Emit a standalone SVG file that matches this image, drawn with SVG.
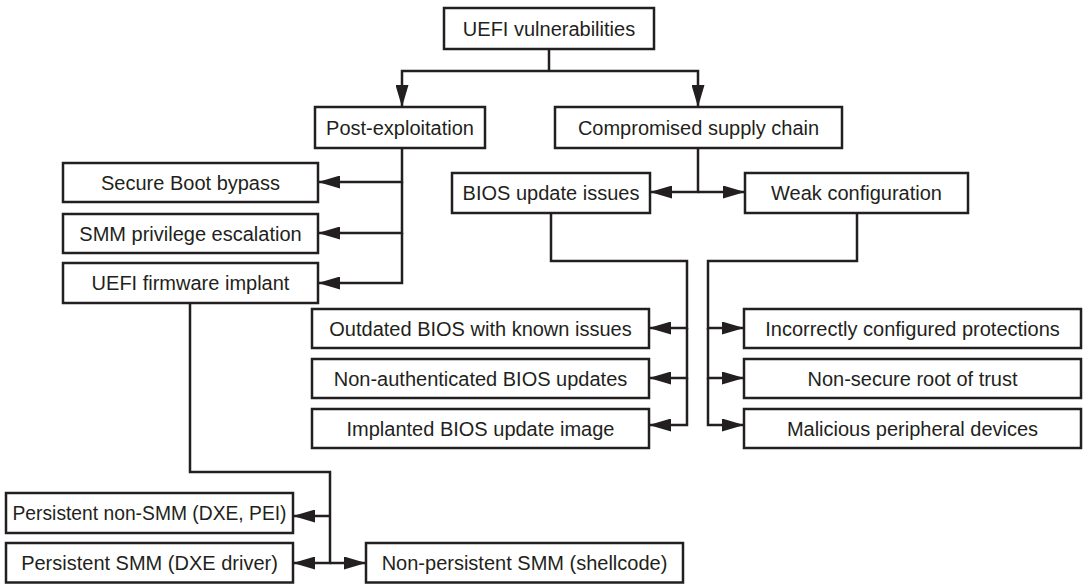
<svg xmlns="http://www.w3.org/2000/svg" width="1083" height="584" viewBox="0 0 1083 584">
<style>
.box{fill:#fff;stroke:#231f20;stroke-width:2.5}
.lbl{font-family:"Liberation Sans",Arial,sans-serif;font-size:20px;fill:#231f20;text-anchor:middle}
.con{fill:none;stroke:#231f20;stroke-width:2.5}
.arr{marker-end:url(#ah)}
</style>
<defs>
<marker id="ah" markerUnits="userSpaceOnUse" markerWidth="22" markerHeight="13" refX="22" refY="6.5" orient="auto">
<path d="M0,0 L22,6.5 L0,13 Z" fill="#231f20"/>
</marker>
</defs>
<rect width="1083" height="584" fill="#fff"/>
<g id="connectors">
<path class="con" d="M549,49 V71"/>
<path class="con arr" d="M549,71 H402 V107"/>
<path class="con arr" d="M549,71 H698 V107"/>
<path class="con arr" d="M402,148 V182 H318"/>
<path class="con arr" d="M402,182 V233 H318"/>
<path class="con arr" d="M402,233 V283 H318"/>
<path class="con arr" d="M698,148 V192 H650"/>
<path class="con arr" d="M698,192 H745"/>
<path class="con arr" d="M551,213 V261 H687 V328 H649"/>
<path class="con arr" d="M687,328 V378 H649"/>
<path class="con arr" d="M687,378 V425 H649"/>
<path class="con arr" d="M857,213 V261 H708 V328 H744"/>
<path class="con arr" d="M708,328 V378 H744"/>
<path class="con arr" d="M708,378 V425 H744"/>
<path class="con" d="M190,303 V472 H330 V516"/>
<path class="con arr" d="M330,516 H293"/>
<path class="con arr" d="M330,516 V563 H293"/>
<path class="con arr" d="M330,563 H366"/>
</g>
<g id="n-uefi"><rect class="box" x="444" y="8" width="210" height="41"/><text class="lbl" x="549" y="35.5">UEFI vulnerabilities</text></g>
<g id="n-post"><rect class="box" x="315" y="107" width="170" height="41"/><text class="lbl" x="400" y="134.5">Post-exploitation</text></g>
<g id="n-supply"><rect class="box" x="555" y="107" width="287" height="41"/><text class="lbl" x="698.5" y="134.5">Compromised supply chain</text></g>
<g id="n-secure"><rect class="box" x="63" y="163" width="255" height="39"/><text class="lbl" x="190.5" y="189.5">Secure Boot bypass</text></g>
<g id="n-smm"><rect class="box" x="63" y="214" width="255" height="39"/><text class="lbl" x="190.5" y="240.5">SMM privilege escalation</text></g>
<g id="n-implant"><rect class="box" x="63" y="263" width="255" height="40"/><text class="lbl" x="190.5" y="290">UEFI firmware implant</text></g>
<g id="n-bios"><rect class="box" x="452" y="173" width="198" height="40"/><text class="lbl" x="551" y="200">BIOS update issues</text></g>
<g id="n-weak"><rect class="box" x="745" y="173" width="223" height="40"/><text class="lbl" x="856.5" y="200">Weak configuration</text></g>
<g id="n-outdated"><rect class="box" x="312" y="309" width="337" height="39"/><text class="lbl" x="480.5" y="335.5">Outdated BIOS with known issues</text></g>
<g id="n-nonauth"><rect class="box" x="312" y="359" width="337" height="39"/><text class="lbl" x="480.5" y="385.5">Non-authenticated BIOS updates</text></g>
<g id="n-implanted"><rect class="box" x="312" y="409" width="337" height="39"/><text class="lbl" x="480.5" y="435.5">Implanted BIOS update image</text></g>
<g id="n-incorrect"><rect class="box" x="744" y="309" width="337" height="39"/><text class="lbl" x="912.5" y="335.5">Incorrectly configured protections</text></g>
<g id="n-root"><rect class="box" x="744" y="359" width="337" height="39"/><text class="lbl" x="912.5" y="385.5">Non-secure root of trust</text></g>
<g id="n-malicious"><rect class="box" x="744" y="409" width="337" height="39"/><text class="lbl" x="912.5" y="435.5">Malicious peripheral devices</text></g>
<g id="n-pnonsmm"><rect class="box" x="6" y="493" width="287" height="40"/><text class="lbl" x="149.5" y="520" textLength="274" lengthAdjust="spacingAndGlyphs">Persistent non-SMM (DXE, PEI)</text></g>
<g id="n-psmm"><rect class="box" x="6" y="543" width="287" height="39.5"/><text class="lbl" x="149.5" y="570">Persistent SMM (DXE driver)</text></g>
<g id="n-npsmm"><rect class="box" x="366" y="543" width="317" height="39.5"/><text class="lbl" x="524.5" y="570">Non-persistent SMM (shellcode)</text></g>
</svg>
